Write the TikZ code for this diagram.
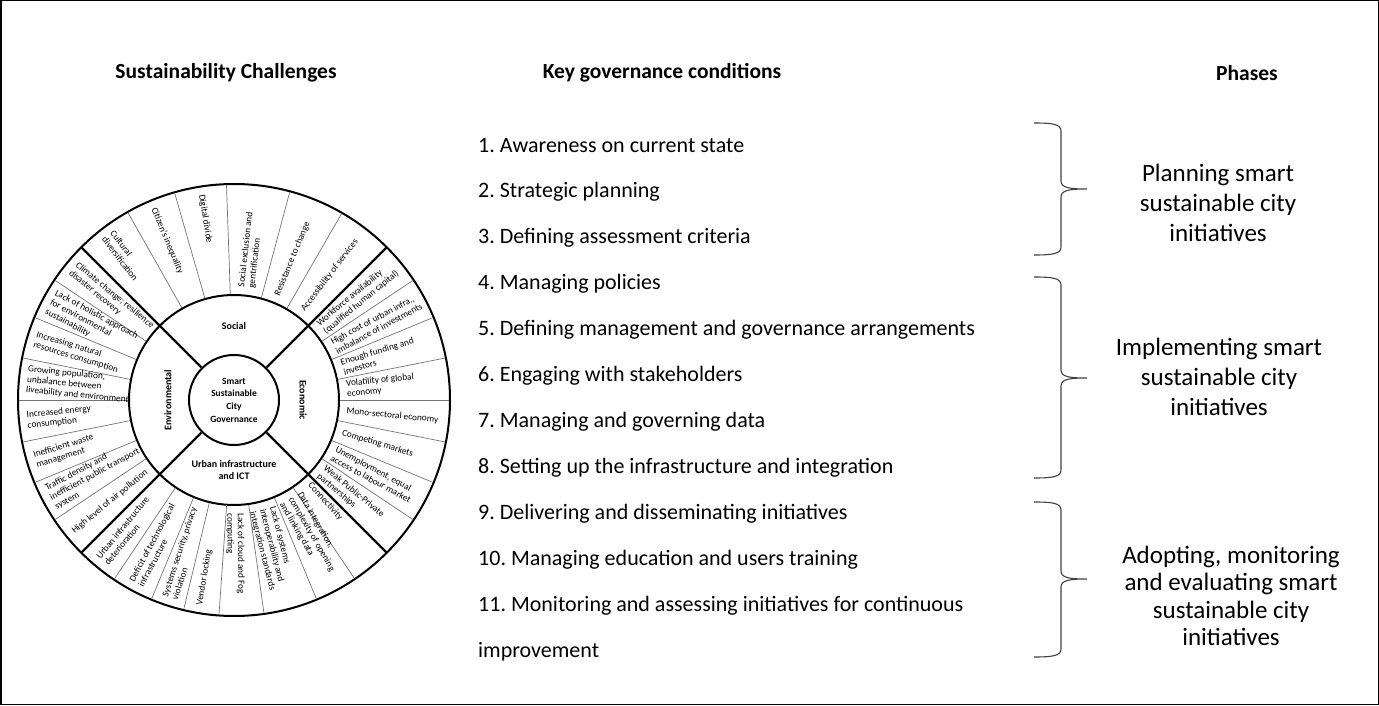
\documentclass[tikz,border=0pt]{standalone}
\usepackage{fontspec}
\setmainfont{Carlito}
\usetikzlibrary{calc}
\frenchspacing
\newcommand{\phbrace}[3]{% top, bottom, tip (y)
  \draw[brace] (1034,#1) .. controls (1052,#1) and (1061,#1-1) .. (1061,#1-8) -- (1061,#3+8)
    .. controls (1061,#3+1) and (1070,#3) .. (1087,#3)
    .. controls (1070,#3) and (1061,#3-1) .. (1061,#3-8) -- (1061,#2+8)
    .. controls (1061,#2+1) and (1052,#2) .. (1034,#2);}
\begin{document}
\begin{tikzpicture}[x=1pt,y=1pt,
  ring/.style={line width=2pt},
  spoke/.style={line width=2.4pt},
  divider/.style={line width=0.7pt, draw=black!55},
  outlbl/.style={font=\fontsize{9.3}{10.4}\selectfont, align=left, inner sep=0pt, anchor=west},
  midlbl/.style={font=\bfseries\fontsize{10}{12.5}\selectfont, align=center, inner sep=0pt},
  head/.style={font=\bfseries\fontsize{21.5}{25}\selectfont, inner sep=0pt},
  itemtxt/.style={font=\fontsize{22}{26}\selectfont, anchor=west, inner sep=0pt},
  phase/.style={font=\fontsize{25}{30}\selectfont, align=center, inner sep=0pt},
  brace/.style={line width=1.1pt, draw=black!75}]

\useasboundingbox (0,0) rectangle (1379,705);
\draw[line width=1.5pt] (0.75,0.75) rectangle (1378.25,704.25);

% ---------------- wheel ----------------
\coordinate (C) at (234,305);
\draw[ring] (C) circle (216);
\draw[ring] (C) circle (105);
\node[circle, draw, line width=2pt, minimum size=90, inner sep=0pt, align=center,
      font=\bfseries\fontsize{9.5}{12.7}\selectfont] (core) at (C)
      {Smart\\Sustainable\\City\\Governance};

\foreach \a in {45,135,225,315}
  \draw[spoke] (core.\a) -- ($(C)+(\a:216)$);

\foreach \a in {119.5,106,92,75,60,
                33.75,22.5,11.25,0,-11.25,-22.5,-33.75,
                146.25,157.5,168.75,180,191.25,202.5,213.75,
                236.25,247.5,256.5,266,278,292.5,304}
  \draw[divider] ($(C)+(\a:106)$) -- ($(C)+(\a:215)$);

% labels on the right half: read outward from the middle ring
\foreach [count=\i] \a/\t in {
   83.5/{Social exclusion and\\gentrification},
   67.5/{Resistance to change},
   52.5/{Accessibility of services},
   39.375/{Workforce availability\\(qualified human capital)},
   28.125/{High cost of urban infra.,\\imbalance of investments},
   16.875/{Enough funding and\\investors},
   5.625/{Volatility of global\\economy},
   -5.625/{Mono-sectoral economy},
   -16.875/{Competing markets},
   -28.125/{Unemployment, equal\\access to labour market},
   -39.375/{Weak Public-Private\\partnerships},
   -48/{Connectivity},
   -60/{Data integration,\\complexity of opening\\and linking data},
   -75.5/{Lack of systems\\interoperability and\\integration standards},
   -89.5/{Lack of cloud and Fog\\computing}}
  \node[outlbl, rotate=\a] (r\i) at ($(C)+(\a:113)$) {\t};

% labels on the left half: read inward from the outer ring
\foreach [count=\i] \a/\t in {
   127.25/{Cultural\\diversification},
   112.75/{Citizen's inequality},
   99/{Digital divide},
   140.625/{Climate change; resilience\\disaster recovery},
   151.875/{Lack of holistic approach\\for environmental\\sustainability},
   163.125/{Increasing natural\\resources consumption},
   174.375/{Growing population,\\unbalance between\\liveability and environment},
   185.625/{Increased energy\\consumption},
   196.875/{Inefficient waste\\management},
   208.125/{Traffic density and\\inefficient public transport\\system},
   219.375/{High level of air pollution},
   230.625/{Urban infrastructure\\deterioration},
   241.875/{Deficit of technological\\infrastructure},
   252/{Systems security, privacy\\violation},
   260.5/{Vendor locking}}
  \node[outlbl, rotate=\a-180] (l\i) at ($(C)+(\a:208)$) {\t};

\node[midlbl] (soc) at ($(C)+(90:74)$) {Social};
\node[midlbl, rotate=-90] (eco) at ($(C)+(0:69)$) {Economic};
\node[midlbl, rotate=90] (env) at ($(C)+(180:66)$) {Environmental};
\node[midlbl] (urb) at ($(C)+(270:70)$) {Urban infrastructure\\and ICT};

% ---------------- headings ----------------
\node[head] (h1) at (226,632) {Sustainability Challenges};
\node[head] (h2) at (662,632) {Key governance conditions};
\node[head] (h3) at (1247,632) {Phases};

% ---------------- conditions ----------------
\foreach [count=\i] \t in {
  1. Awareness on current state,
  2. Strategic planning,
  3. Defining assessment criteria,
  4. Managing policies,
  5. Defining management and governance arrangements,
  6. Engaging with stakeholders,
  7. Managing and governing data,
  8. Setting up the infrastructure and integration,
  9. Delivering and disseminating initiatives,
  10. Managing education and users training,
  11. Monitoring and assessing initiatives for continuous,
  improvement}
  \node[itemtxt] (k\i) at (478,{559-46*(\i-1)}) {\t};

% ---------------- phases ----------------
\phbrace{582}{450}{516}
\phbrace{428}{227}{327}
\phbrace{203}{48}{126}
\node[phase] (p1) at (1218,502) {Planning smart\\sustainable city\\initiatives};
\node[phase] (p2) at (1219,328) {Implementing smart\\sustainable city\\initiatives};
\node[phase, font=\fontsize{25}{27.5}\selectfont] (p3) at (1231,109) {Adopting, monitoring\\and evaluating smart\\sustainable city\\initiatives};
\end{tikzpicture}
\end{document}
